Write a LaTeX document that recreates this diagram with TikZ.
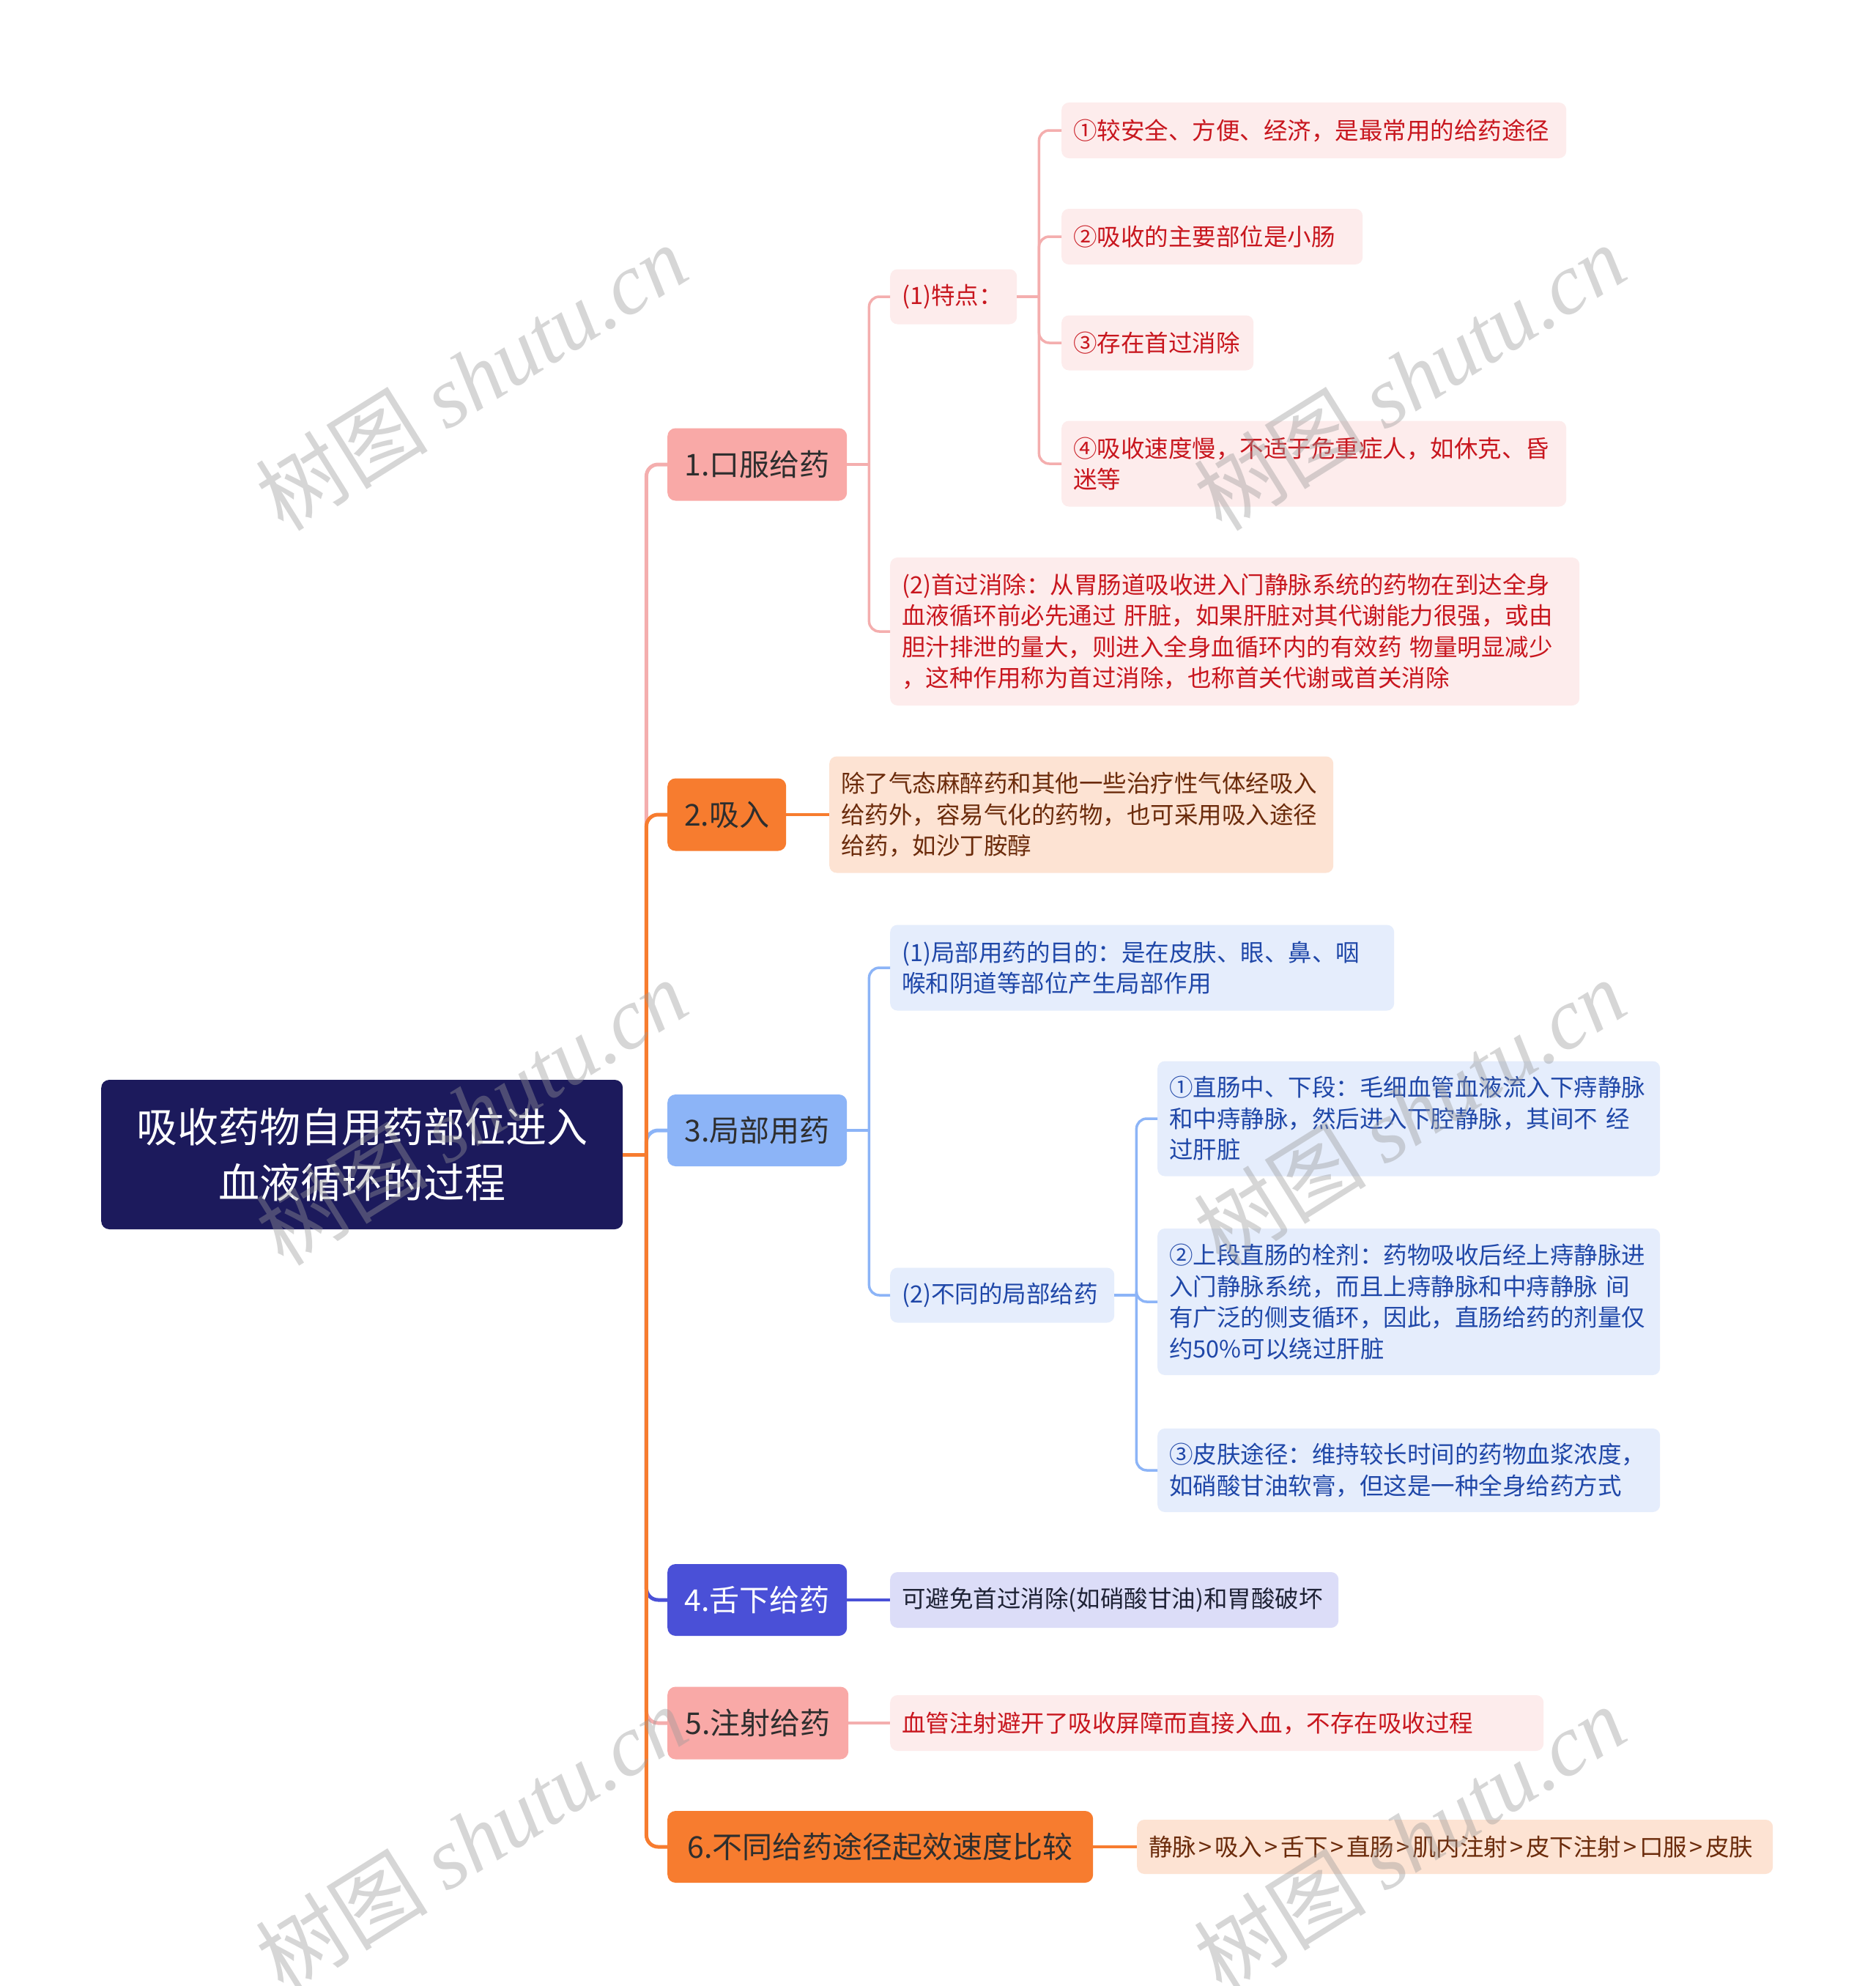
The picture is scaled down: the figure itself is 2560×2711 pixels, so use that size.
\documentclass[tikz,border=0pt]{standalone}
\usepackage{fontspec}
\setmainfont{Noto Sans CJK SC}
\newfontfamily\wmlatin{Liberation Serif}
\usetikzlibrary{calc}
\definecolor{rootfill}{HTML}{1C1A5C}
\definecolor{pinkA}{HTML}{F9A9A7}
\definecolor{pinkC}{HTML}{F4AEAE}
\definecolor{lpink}{HTML}{FDECEC}
\definecolor{redtxt}{HTML}{C8161E}
\definecolor{orangeA}{HTML}{F77C2F}
\definecolor{peach}{HTML}{FDE3D3}
\definecolor{browntxt}{HTML}{6B2B0B}
\definecolor{blueA}{HTML}{8CB4F7}
\definecolor{lblue}{HTML}{E5EDFC}
\definecolor{bluetxt}{HTML}{1F47A8}
\definecolor{indigoA}{HTML}{4A50D7}
\definecolor{lav}{HTML}{DCDDF8}
\definecolor{darktxt}{HTML}{1E2235}
\definecolor{lonetxt}{HTML}{2E2E2E}
\newcommand{\gtsep}{\hspace{3.5pt}>\hspace{3.5pt}}
\begin{document}
\begin{tikzpicture}[x=1pt,y=-1pt,
  rootbox/.style={rounded corners=11, anchor=west, inner sep=0, align=center, fill=rootfill, text=white, font=\fontsize{56}{76}\selectfont},
  lone/.style={rounded corners=11, anchor=west, inner sep=0, align=center, font=\fontsize{41}{50}\selectfont},
  kid/.style={rounded corners=10, anchor=west, inner xsep=16, inner ysep=0, align=left, font=\fontsize{32.5}{42.5}\selectfont},
  trunk/.style={line width=5},
  twig/.style={line width=3.5},
  wm/.style={rotate=32, text=black!40, opacity=0.4, font=\fontsize{118}{120}\selectfont}
]
\useasboundingbox (0,0) rectangle (2560,2711);
\fill[white] (0,0) rectangle (2560,2711);

% root
\node[rootbox, minimum width=712, minimum height=204] (root) at (138,1576) {吸收药物自用药部位进入\\血液循环的过程};

% level 1
\node[lone, fill=pinkA, text=lonetxt, minimum width=245, minimum height=99] (n1) at (911,634) {1.口服给药};
\node[lone, fill=orangeA, text=lonetxt, minimum width=162, minimum height=99] (n2) at (911,1112) {2.吸入};
\node[lone, fill=blueA, text=lonetxt, minimum width=245, minimum height=98] (n3) at (911,1543) {3.局部用药};
\node[lone, fill=indigoA, text=white, minimum width=245, minimum height=98] (n4) at (911,2184) {4.舌下给药};
\node[lone, fill=pinkA, text=lonetxt, minimum width=247, minimum height=99] (n5) at (911,2352) {5.注射给药};
\node[lone, fill=orangeA, text=lonetxt, minimum width=581, minimum height=98] (n6) at (911,2521) {6.不同给药途径起效速度比较};

% branch 1
\node[kid, fill=lpink, text=redtxt, text width=141, minimum height=75] (tz) at (1215,405) {(1)特点：};
\node[kid, fill=lpink, text=redtxt, text width=909, minimum height=202] (sg) at (1215,862) {(2)首过消除：从胃肠道吸收进入门静脉系统的药物在到达全身\\血液循环前必先通过~肝脏，如果肝脏对其代谢能力很强，或由\\胆汁排泄的量大，则进入全身血循环内的有效药~物量明显减少\\，这种作用称为首过消除，也称首关代谢或首关消除};
\node[kid, fill=lpink, text=redtxt, text width=657, minimum height=76] (a1) at (1449,178) {①较安全、方便、经济，是最常用的给药途径};
\node[kid, fill=lpink, text=redtxt, text width=379, minimum height=76] (a2) at (1449,323) {②吸收的主要部位是小肠};
\node[kid, fill=lpink, text=redtxt, text width=230, minimum height=75] (a3) at (1449,468) {③存在首过消除};
\node[kid, fill=lpink, text=redtxt, text width=657, minimum height=117] (a4) at (1449,633) {④吸收速度慢，不适于危重症人，如休克、昏\\迷等};

% branch 2
\node[kid, fill=peach, text=browntxt, text width=656, minimum height=159] (b1) at (1132,1112) {除了气态麻醉药和其他一些治疗性气体经吸入\\给药外，容易气化的药物，也可采用吸入途径\\给药，如沙丁胺醇};

% branch 3
\node[kid, fill=lblue, text=bluetxt, text width=656, minimum height=117] (c1) at (1215,1321) {(1)局部用药的目的：是在皮肤、眼、鼻、咽\\喉和阴道等部位产生局部作用};
\node[kid, fill=lblue, text=bluetxt, text width=274, minimum height=75] (c2) at (1215,1768) {(2)不同的局部给药};
\node[kid, fill=lblue, text=bluetxt, text width=654, minimum height=157] (d1) at (1580,1527) {①直肠中、下段：毛细血管血液流入下痔静脉\\和中痔静脉，然后进入下腔静脉，其间不~经\\过肝脏};
\node[kid, fill=lblue, text=bluetxt, text width=654, minimum height=200] (d2) at (1580,1777) {②上段直肠的栓剂：药物吸收后经上痔静脉进\\入门静脉系统，而且上痔静脉和中痔静脉~间\\有广泛的侧支循环，因此，直肠给药的剂量仅\\约50\%可以绕过肝脏};
\node[kid, fill=lblue, text=bluetxt, text width=654, minimum height=114] (d3) at (1580,2007) {③皮肤途径：维持较长时间的药物血浆浓度，\\如硝酸甘油软膏，但这是一种全身给药方式};

% branch 4-6
\node[kid, fill=lav, text=darktxt, text width=580, minimum height=76] (e1) at (1215,2184) {可避免首过消除(如硝酸甘油)和胃酸破坏};
\node[kid, fill=lpink, text=redtxt, text width=860, minimum height=76] (f1) at (1215,2352) {血管注射避开了吸收屏障而直接入血，不存在吸收过程};
\node[kid, fill=peach, text=browntxt, text width=836, minimum height=74] (g1) at (1552,2521) {静脉\gtsep 吸入\gtsep 舌下\gtsep 直肠\gtsep 肌内注射\gtsep 皮下注射\gtsep 口服\gtsep 皮肤};

% trunk connectors
\draw[pinkC, trunk, rounded corners=16] (root.east) ++(32,0) |- (n1.west);
\draw[blueA, trunk, rounded corners=16] (root.east) ++(32,0) |- (n3.west);
\draw[indigoA, trunk, rounded corners=16] (root.east) ++(32,0) |- (n4.west);
\draw[pinkC, trunk, rounded corners=16] (root.east) ++(32,0) |- (n5.west);
\draw[orangeA, trunk, rounded corners=16] (root.east) ++(32,0) |- (n2.west);
\draw[orangeA, trunk, rounded corners=16] (root.east) ++(32,0) |- (n6.west);
\draw[orangeA, trunk] (root.east) -- ++(32,0);

% branch 1 connectors
\draw[pinkC, twig] (n1.east) -- ++(30,0);
\draw[pinkC, twig, rounded corners=14] (n1.east) ++(30,0) |- (tz.west);
\draw[pinkC, twig, rounded corners=14] (n1.east) ++(30,0) |- (sg.west);
\draw[pinkC, twig] (tz.east) -- ++(30,0);
\draw[pinkC, twig, rounded corners=14] (tz.east) ++(30,0) |- (a1.west);
\draw[pinkC, twig, rounded corners=14] (tz.east) ++(30,0) |- (a2.west);
\draw[pinkC, twig, rounded corners=14] (tz.east) ++(30,0) |- (a3.west);
\draw[pinkC, twig, rounded corners=14] (tz.east) ++(30,0) |- (a4.west);

% branch 2
\draw[orangeA, twig] (n2.east) -- (b1.west);

% branch 3
\draw[blueA, twig] (n3.east) -- ++(30,0);
\draw[blueA, twig, rounded corners=14] (n3.east) ++(30,0) |- (c1.west);
\draw[blueA, twig, rounded corners=14] (n3.east) ++(30,0) |- (c2.west);
\draw[blueA, twig] (c2.east) -- ++(30,0);
\draw[blueA, twig, rounded corners=14] (c2.east) ++(30,0) |- (d1.west);
\draw[blueA, twig, rounded corners=14] (c2.east) ++(30,0) |- (d2.west);
\draw[blueA, twig, rounded corners=14] (c2.east) ++(30,0) |- (d3.west);

% branches 4-6
\draw[indigoA, twig] (n4.east) -- (e1.west);
\draw[pinkC, twig] (n5.east) -- (f1.west);
\draw[orangeA, twig] (n6.east) -- (g1.west);

% watermarks
\begin{scope}
\clip (0,0) rectangle (2560,2711);
\foreach \wx/\wy [count=\i] in {643/515, 1924/515, 643/1518, 1924/1518, 643/2510, 1924/2510}
  \node[wm] (wm\i) at (\wx,\wy) {树图 {\wmlatin\itshape shutu.cn}};
\end{scope}
\end{tikzpicture}
\end{document}
